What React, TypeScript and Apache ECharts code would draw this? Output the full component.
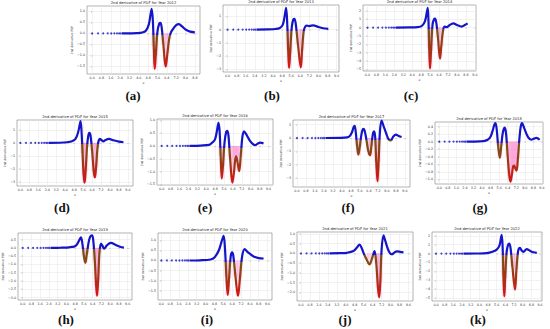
import React, { useEffect, useRef } from "react";
import * as echarts from "echarts";

const years = [2012, 2013, 2014, 2015, 2016, 2017, 2018, 2019, 2020, 2021, 2022];
const panelLabels = ["(a)", "(b)", "(c)", "(d)", "(e)", "(f)", "(g)", "(h)", "(i)", "(j)", "(k)"];
const xTicks = [0, 0.8, 1.6, 2.4, 3.2, 4.0, 4.8, 5.6, 6.4, 7.2, 8.0, 8.8, 9.6];
const dotX = [0, 0.5, 0.95, 1.33, 1.64, 1.9, 2.12, 2.3, 2.45];

const curve2012 = [[2.55,0],[3.0,0],[3.8,0.01],[4.3,0.04],[4.6,0.12],[4.85,0.4],[5.0,0.85],[5.1,1.12],[5.2,0.6],[5.28,-0.6],[5.36,-1.62],[5.45,-1.0],[5.6,0.1],[5.75,0.45],[5.85,0.48],[5.95,0.3],[6.1,-0.5],[6.3,-1.52],[6.45,-0.9],[6.6,-0.25],[6.75,0.05],[7.0,0.25],[7.2,0.38],[7.43,0.42],[7.7,0.32],[8.0,0.18],[8.4,0.08],[8.8,0.05]];
const curve2013 = [[2.55,0],[3.5,0.01],[4.2,0.04],[4.6,0.12],[4.85,0.35],[5.0,0.9],[5.15,1.64],[5.25,0.4],[5.33,-1.5],[5.41,-2.9],[5.5,-1.8],[5.65,0.2],[5.78,0.75],[5.88,0.8],[6.0,0.4],[6.2,-1.2],[6.44,-2.85],[6.55,-1.6],[6.7,-0.1],[6.85,0.25],[7.0,0.3],[7.15,0.25],[7.35,0.3],[7.55,0.32],[7.9,0.22],[8.4,0.1],[8.86,0.05]];
const curve2014 = [[2.55,0],[3.8,0.01],[4.5,0.05],[4.9,0.25],[5.15,0.8],[5.3,1.8],[5.39,2.35],[5.46,0.5],[5.52,-2.5],[5.59,-4.9],[5.68,-2.8],[5.82,0.4],[5.95,1.0],[6.04,1.06],[6.15,0.6],[6.3,-1.2],[6.48,-3.73],[6.6,-2.2],[6.75,-0.4],[6.9,0.1],[7.08,0.05],[7.3,0.25],[7.67,0.5],[8.0,0.3],[8.42,0.12],[8.7,0.3],[8.95,0.5]];
const curve2015 = [[2.55,0],[3.5,0.01],[4.18,0.05],[4.6,0.12],[4.92,0.3],[5.15,0.8],[5.3,1.4],[5.37,1.66],[5.45,1.0],[5.55,-0.8],[5.65,-2.5],[5.73,-3.05],[5.82,-2.2],[5.95,-0.3],[6.05,0.5],[6.15,0.77],[6.25,0.6],[6.4,-0.6],[6.55,-2.2],[6.65,-2.65],[6.75,-1.9],[6.88,-0.4],[6.98,0.15],[7.1,0.3],[7.25,0.2],[7.4,0.12],[7.6,0.22],[7.9,0.3],[8.3,0.2],[8.8,0.1],[9.2,0.05]];
const curve2016 = [[2.55,0],[3.5,0.01],[4.0,0.03],[4.35,0.06],[4.6,0.15],[4.8,0.27],[4.95,0.55],[5.1,0.9],[5.2,0.6],[5.3,-0.4],[5.4,-1.27],[5.5,-0.8],[5.65,0.15],[5.8,0.55],[5.9,0.59],[6.0,0.4],[6.15,-0.5],[6.35,-1.43],[6.5,-1.0],[6.6,-0.55],[6.69,-0.4],[6.8,-0.6],[6.96,-0.98],[7.1,-0.4],[7.25,0.35],[7.4,0.57],[7.6,0.45],[7.9,0.22],[8.2,0.07],[8.4,0.03],[8.65,0.1],[8.85,0.13],[9.15,0.1]];
const curve2017 = [[2.55,0],[3.8,0.01],[4.47,0.05],[4.7,0.15],[4.9,0.45],[5.05,0.85],[5.13,0.92],[5.22,0.5],[5.35,-0.6],[5.46,-1.25],[5.58,-0.7],[5.75,0.35],[5.9,0.68],[6.0,0.6],[6.15,0.0],[6.35,-1.0],[6.5,-1.3],[6.62,-0.6],[6.75,0.3],[6.86,0.5],[6.95,0.1],[7.05,-1.8],[7.16,-3.25],[7.26,-1.8],[7.38,0.5],[7.52,1.3],[7.7,0.9],[7.95,0.3],[8.15,-0.1],[8.35,-0.18],[8.55,0.1],[8.8,0.25],[9.05,0.15],[9.3,0.07]];
const curve2018 = [[2.55,0],[3.8,0.01],[4.26,0.02],[4.73,0.1],[5.0,0.3],[5.15,0.45],[5.26,0.49],[5.38,0.3],[5.5,-0.1],[5.66,-0.43],[5.8,-0.1],[5.95,0.25],[6.13,0.37],[6.25,0.2],[6.4,-0.4],[6.55,-0.9],[6.66,-1.06],[6.8,-0.85],[6.9,-0.66],[7.0,-0.63],[7.1,-0.7],[7.22,-0.77],[7.35,-0.45],[7.5,0.1],[7.62,0.4],[7.74,0.49],[7.95,0.35],[8.3,0.12],[8.62,0.05],[8.85,0.08],[9.08,0.1],[9.39,0.05]];
const curve2019 = [[2.55,0],[3.5,0.01],[4.02,0.02],[4.5,0.06],[4.78,0.1],[5.0,0.25],[5.2,0.5],[5.33,0.64],[5.45,0.3],[5.6,-0.5],[5.73,-0.9],[5.86,-0.4],[6.05,0.4],[6.2,0.7],[6.34,0.76],[6.45,0.5],[6.6,-0.8],[6.72,-2.3],[6.8,-2.9],[6.9,-2.0],[7.02,-0.3],[7.16,0.26],[7.3,0.12],[7.46,-0.06],[7.7,0.15],[8.07,0.3],[8.5,0.18],[8.9,0.07],[9.26,0.02]];
const curve2020 = [[2.55,0],[3.5,0.01],[4.45,0.05],[4.8,0.15],[5.19,0.5],[5.45,0.95],[5.63,1.23],[5.75,0.6],[5.88,-0.8],[6.0,-1.72],[6.12,-0.9],[6.27,0.2],[6.39,0.4],[6.5,0.25],[6.7,-0.8],[6.93,-1.77],[7.1,-0.9],[7.3,0.2],[7.53,0.57],[7.8,0.42],[8.34,0.2],[8.8,0.12],[9.24,0.1]];
const curve2021 = [[2.55,0],[3.5,0.01],[4.1,0.03],[4.69,0.12],[5.0,0.3],[5.23,0.45],[5.4,0.3],[5.6,0.0],[5.85,-0.3],[6.12,-0.57],[6.35,-0.25],[6.57,0.12],[6.72,-0.5],[6.88,-1.8],[6.98,-2.26],[7.08,-1.5],[7.2,0.2],[7.37,0.93],[7.55,0.6],[7.85,0.1],[8.12,-0.05],[8.35,0.05],[8.56,0.1],[8.85,0.08],[9.15,0.05]];
const curve2022 = [[2.55,0],[3.8,0.01],[4.68,0.05],[5.2,0.2],[5.6,0.45],[5.85,0.9],[6.0,1.8],[6.06,2.1],[6.14,1.0],[6.22,-2.5],[6.3,-4.8],[6.38,-2.8],[6.52,0.2],[6.65,1.0],[6.76,1.12],[6.88,0.6],[7.05,-1.5],[7.29,-4.05],[7.42,-1.8],[7.58,0.3],[7.75,0.64],[7.9,0.35],[8.06,0.2],[8.37,0.5],[8.7,0.3],[9.0,0.15],[9.3,0.08]];

const curves = [curve2012, curve2013, curve2014, curve2015, curve2016, curve2017, curve2018, curve2019, curve2020, curve2021, curve2022];

const yTicks2012 = [-1.5, -1.0, -0.5, 0, 0.5, 1.0];
const yTicks2013 = [-3, -2, -1, 0, 1];
const yTicks2014 = [-5, -4, -3, -2, -1, 0, 1, 2];
const yTicks2015 = [-3, -2, -1, 0, 1];
const yTicks2016 = [-1.5, -1.0, -0.5, 0, 0.5, 1.0];
const yTicks2017 = [-3, -2, -1, 0, 1];
const yTicks2018 = [-1.0, -0.8, -0.6, -0.4, -0.2, 0, 0.2, 0.4];
const yTicks2019 = [-3.0, -2.5, -2.0, -1.5, -1.0, -0.5, 0, 0.5];
const yTicks2020 = [-1.5, -1.0, -0.5, 0, 0.5, 1.0];
const yTicks2021 = [-2.0, -1.5, -1.0, -0.5, 0, 0.5, 1.0];
const yTicks2022 = [-5, -4, -3, -2, -1, 0, 1, 2];
const yTicksList = [yTicks2012, yTicks2013, yTicks2014, yTicks2015, yTicks2016, yTicks2017, yTicks2018, yTicks2019, yTicks2020, yTicks2021, yTicks2022];
const yDecimals = [1, 0, 0, 0, 1, 0, 1, 1, 1, 1, 0];

const yRanges = [[-1.85, 1.25], [-3.2, 1.85], [-5.2, 2.7], [-3.3, 1.75], [-1.52, 1.05], [-3.67, 1.35], [-1.12, 0.52], [-3.15, 0.9], [-1.97, 1.37], [-2.45, 1.1], [-5.33, 2.43]];
const xRanges = [[-0.44, 9.24], [-0.4, 9.8], [-0.4, 9.7], [-0.3, 10.05], [-0.42, 10.0], [-0.35, 10.05], [-0.4, 9.7], [-0.43, 10.0], [-0.3, 10.0], [-0.35, 10.0], [-0.37, 9.78]];

// layout of plot frames (px)
const layout = [
  { l: 87, t: 6, r: 200, b: 74 },
  { l: 223, t: 5, r: 339, b: 72 },
  { l: 363, t: 5, r: 476, b: 71 },
  { l: 17, t: 120, r: 133, b: 186 },
  { l: 157, t: 119, r: 273, b: 185 },
  { l: 293, t: 120, r: 410, b: 187 },
  { l: 435, t: 122, r: 543, b: 184 },
  { l: 18, t: 233, r: 132, b: 300 },
  { l: 158, t: 233, r: 272, b: 300 },
  { l: 297, t: 232, r: 413, b: 301 },
  { l: 432, t: 232, r: 542, b: 301 },
];
const labelPos = [[133, 95], [272, 95], [411, 95], [62, 207], [205, 207], [348, 207], [480, 207], [66, 319], [207, 319], [345, 319], [478, 319]];

const BLUE = "#1414c8";
const BROWN = [112, 86, 20];
const RED = [214, 20, 20];
const BAND = 0.46; // width (x units) of each pink shading column

function fmt(v: number, dec: number) {
  const s = Math.abs(v).toFixed(dec);
  return (v < 0 ? "\u2212" : "") + s;
}

function mix(t: number) {
  const c = BROWN.map((b, k) => Math.round(b + (RED[k] - b) * t));
  return `rgb(${c[0]},${c[1]},${c[2]})`;
}

function buildOption() {
  const grid: any[] = [];
  const xAxis: any[] = [];
  const yAxis: any[] = [];
  const series: any[] = [];
  const graphic: any[] = [];
  const visualMap: any[] = [];
  layout.forEach((p, i) => {
    grid.push({
      left: p.l, top: p.t, width: p.r - p.l, height: p.b - p.t,
      show: true, borderColor: "#666", borderWidth: 0.5, backgroundColor: "#fff",
    });
    xAxis.push({
      type: "value", gridIndex: i, min: xRanges[i][0], max: xRanges[i][1],
      name: "x", nameLocation: "middle", nameGap: 7,
      nameTextStyle: { fontSize: 3.2, color: "#222" },
      axisLine: { show: false },
      axisTick: { show: true, customValues: xTicks, length: 1.2, lineStyle: { color: "#666", width: 0.4 } },
      axisLabel: { customValues: xTicks, fontSize: 3.3, color: "#333", margin: 2.2, formatter: (v: number) => fmt(v, 1) },
      splitLine: { show: true, lineStyle: { color: "#e4e4e4", width: 0.5 } },
    });
    const dec = yDecimals[i];
    yAxis.push({
      type: "value", gridIndex: i, min: yRanges[i][0], max: yRanges[i][1],
      name: "2nd derivative PDF", nameLocation: "middle", nameGap: dec ? 14 : 10, nameRotate: 90,
      nameTextStyle: { fontSize: 3, color: "#222" },
      axisLine: { show: false },
      axisTick: { show: true, customValues: yTicksList[i], length: 1.2, lineStyle: { color: "#666", width: 0.4 } },
      axisLabel: { customValues: yTicksList[i], fontSize: 3.3, color: "#333", margin: 2, formatter: (v: number) => fmt(v, dec) },
      splitLine: { show: true, lineStyle: { color: "#e4e4e4", width: 0.5 } },
    });
    const c = curves[i];
    let ymin = 0;
    c.forEach(([, y]) => { ymin = Math.min(ymin, y); });
    // colour pieces: blue above (just below) zero, brown -> red going down
    const R = yRanges[i][1] - yRanges[i][0];
    const eps = (1.6 * R) / (p.b - p.t);
    const pieces: any[] = [{ gte: -eps, color: BLUE }];
    const N = 10;
    const span = Math.abs(ymin) - eps;
    for (let k = 0; k < N; k++) {
      const hi = -eps - (span * k) / N;
      const lo = -eps - (span * (k + 1)) / N;
      if (k === N - 1) pieces.push({ lt: hi, color: mix((k + 0.5) / N) });
      else pieces.push({ gte: lo, lt: hi, color: mix((k + 0.5) / N) });
    }
    visualMap.push({
      type: "piecewise", show: false, dimension: 1, seriesIndex: 2 * i + 1, pieces,
    });
    // pink shading: one translucent column from 0 down to each negative point
    const shade = c
      .filter(([, y]) => y < 0)
      .map(([x, y]) => [{ coord: [x - BAND / 2, y] }, { coord: [x + BAND / 2, 0] }]);
    series.push({
      type: "scatter", xAxisIndex: i, yAxisIndex: i,
      data: dotX.map((x) => [x, 0]), symbolSize: 2,
      itemStyle: { color: BLUE }, silent: true,
      markArea: {
        silent: true,
        itemStyle: { color: "rgba(255,110,200,0.2)" },
        data: shade,
      },
    });
    series.push({
      type: "line", xAxisIndex: i, yAxisIndex: i, data: c,
      smooth: 0.35, symbol: "none", silent: true,
      lineStyle: { width: 2.2 },
    });
    graphic.push({
      type: "text", x: (p.l + p.r) / 2, y: p.t - 3.2,
      style: {
        text: `2nd derivative of PDF for Year ${years[i]}`,
        fontSize: 3.7, fontFamily: "DejaVu Sans", fill: "#222",
        textAlign: "center", textVerticalAlign: "middle", align: "center", verticalAlign: "middle",
      },
    });
    graphic.push({
      type: "text", x: labelPos[i][0], y: labelPos[i][1],
      style: {
        text: panelLabels[i],
        fontSize: 13, fontWeight: "bold", fontFamily: "Liberation Serif", fill: "#111",
        textAlign: "center", textVerticalAlign: "middle", align: "center", verticalAlign: "middle",
      },
    });
  });
  return {
    animation: false,
    backgroundColor: "#fff",
    textStyle: { fontFamily: "DejaVu Sans" },
    grid, xAxis, yAxis, series, graphic, visualMap,
  };
}

export default function App() {
  const ref = useRef<HTMLDivElement>(null);
  useEffect(() => {
    if (!ref.current) return;
    const chart = echarts.init(ref.current, undefined, { renderer: "svg" });
    chart.setOption(buildOption() as any);
    return () => chart.dispose();
  }, []);
  return (
    <div
      ref={ref}
      style={{ position: "fixed", left: 0, top: 0, width: 550, height: 329, background: "#fff" }}
    />
  );
}
